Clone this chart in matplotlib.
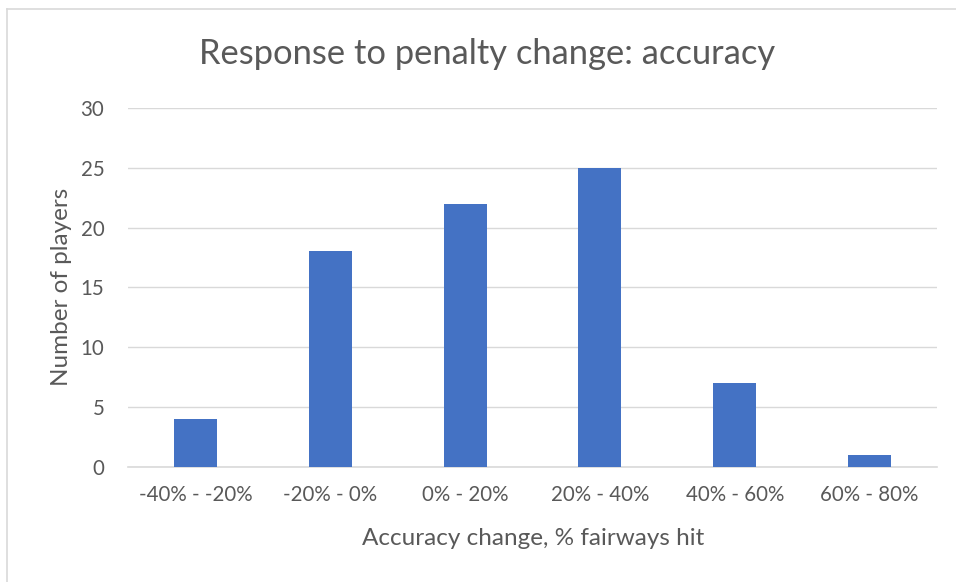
import matplotlib
matplotlib.use("Agg")
import matplotlib.pyplot as plt
from matplotlib.lines import Line2D

categories = ["-40% - -20%", "-20% - 0%", "0% - 20%", "20% - 40%", "40% - 60%", "60% - 80%"]
players = [4, 18, 22, 25, 7, 1]
yticks = [0, 5, 10, 15, 20, 25, 30]

plt.rcParams['font.family'] = ['Lato', 'DejaVu Sans']
txt = '#595959'

fig = plt.figure(figsize=(9.56, 5.82), dpi=100)
W, H = 956, 582
ax = fig.add_axes([128 / W, 1 - 466.7 / H, (937 - 128) / W, (466.7 - 108) / H])

x = list(range(len(categories)))
ax.bar(x, players, width=0.32, color='#4472C4', zorder=3)
ax.set_xlim(-0.5, len(categories) - 0.5)
ax.set_ylim(0, 30)
ax.set_yticks(yticks)
ax.set_xticks(x)
ax.set_xticklabels(categories)
ax.grid(axis='y', color='#D9D9D9', linewidth=1.0, zorder=0)
for s in ['top', 'right', 'left']:
    ax.spines[s].set_visible(False)
ax.spines['bottom'].set_color('#D9D9D9')
ax.spines['bottom'].set_linewidth(1.2)
ax.tick_params(axis='both', length=0, labelsize=14.8, colors=txt)
ax.tick_params(axis='y', pad=17)
ax.tick_params(axis='x', pad=13)

ax.set_ylabel("Number of players", fontsize=17.5, color=txt)
ax.yaxis.set_label_coords(-0.069, 0.5)
ax.set_xlabel("Accuracy change, % fairways hit", fontsize=17.5, color=txt)
ax.xaxis.set_label_coords(0.5006, -0.171)
fig.text(487 / W, 1 - 54 / H, "Response to penalty change: accuracy", fontsize=24.8,
         color=txt, ha='center', va='center')

# chart border (left and top only visible)
fig.add_artist(Line2D([7 / W, 7 / W], [0, 1 - 9 / H], transform=fig.transFigure, color='#D9D9D9', lw=1.2))
fig.add_artist(Line2D([7 / W, 1], [1 - 9 / H, 1 - 9 / H], transform=fig.transFigure, color='#D9D9D9', lw=1.2))

fig.savefig("out.png", dpi=100)
